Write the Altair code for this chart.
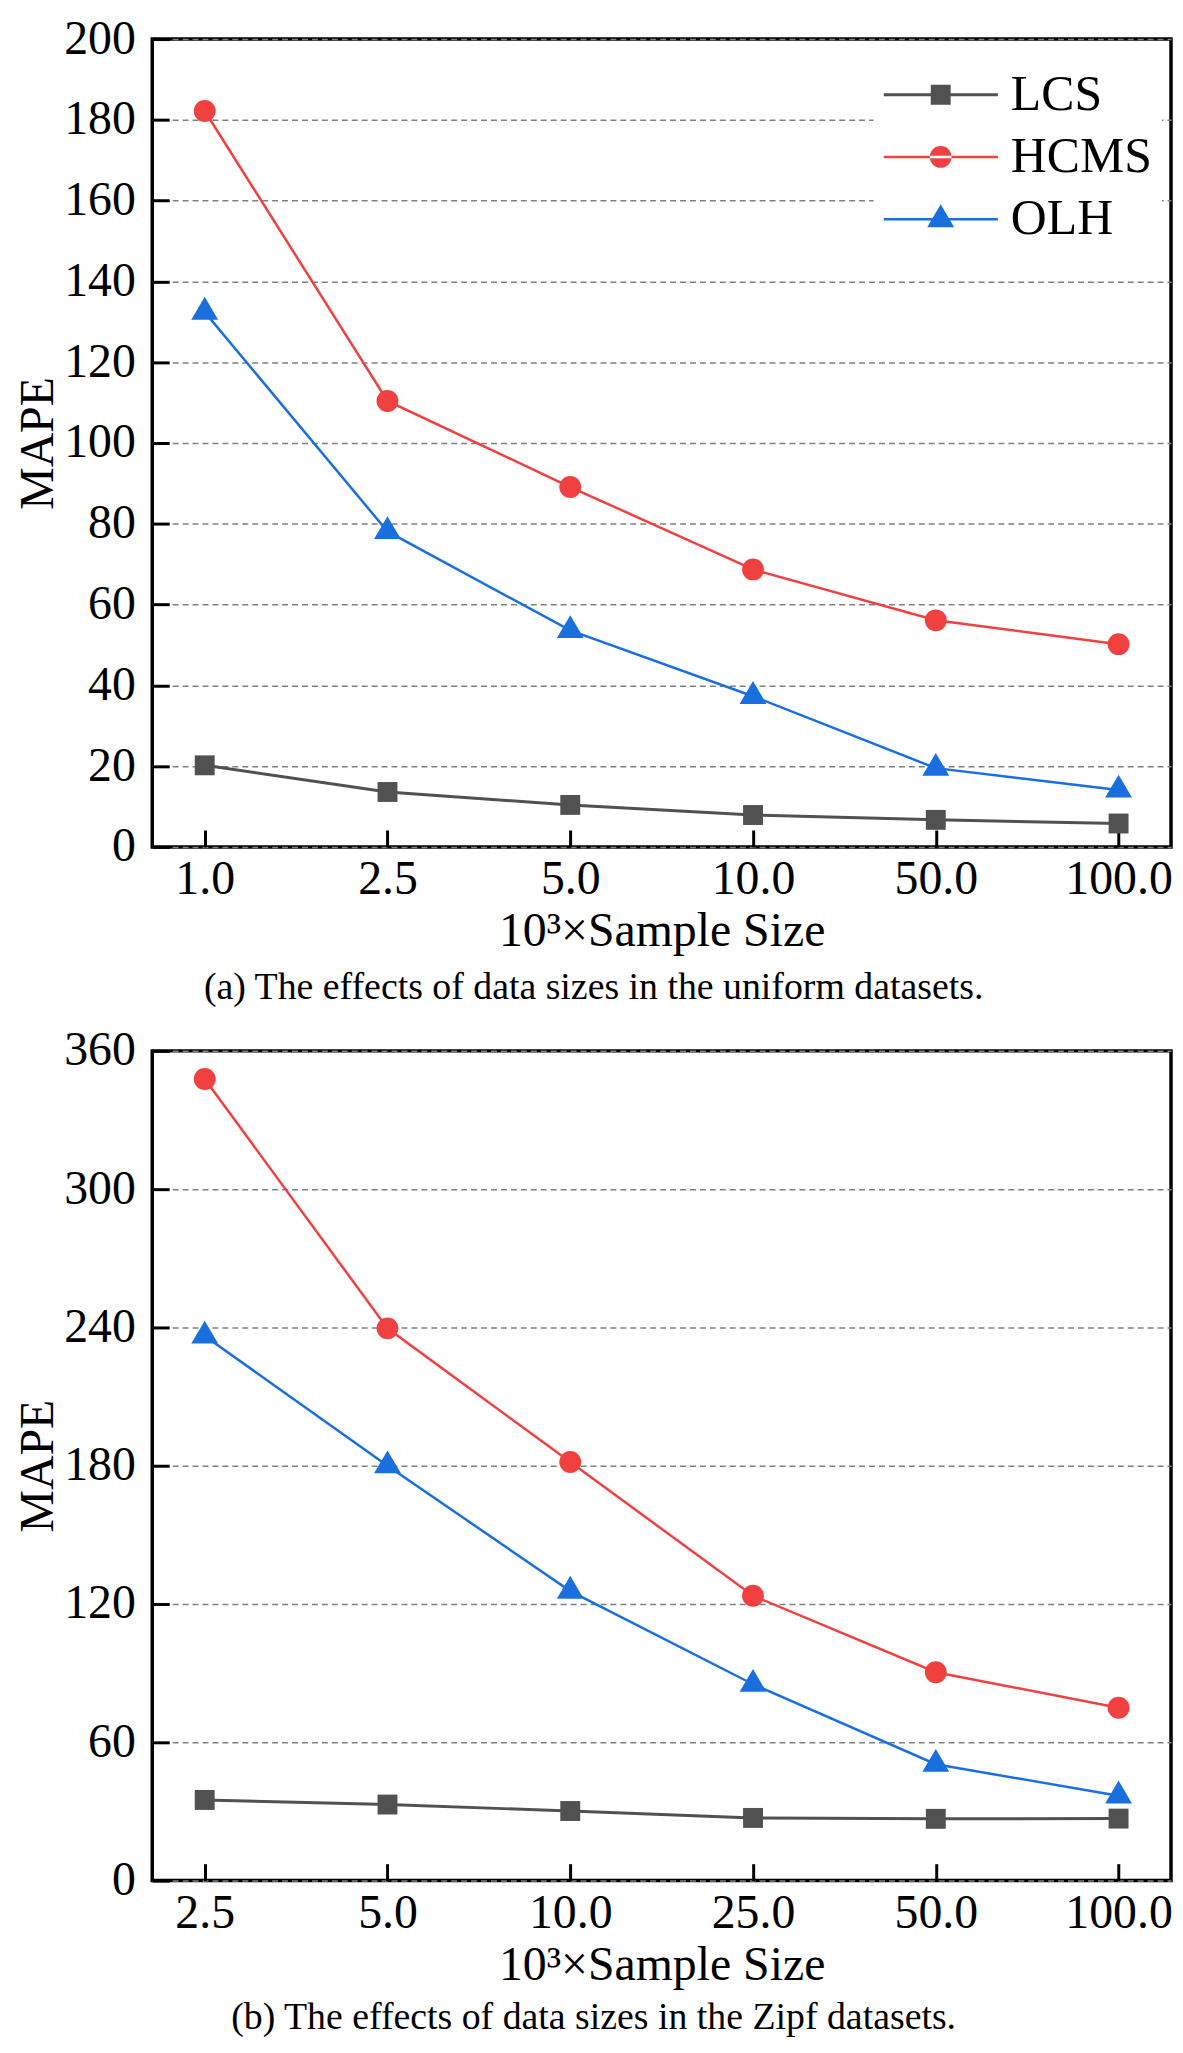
import altair as alt
import pandas as pd

FONT = "Liberation Serif"

series = ["LCS", "HCMS", "OLH"]
colors = ["#515151", "#F14040", "#1A6FDF"]
line_widths = [3, 2.5, 2.5]

# (a) uniform datasets
x_a = ["1.0", "2.5", "5.0", "10.0", "50.0", "100.0"]
lcs_a = [20.2, 13.6, 10.4, 7.9, 6.7, 5.8]
hcms_a = [182.2, 110.4, 89.1, 68.7, 56.1, 50.2]
olh_a = [132.4, 78.1, 53.6, 37.3, 19.5, 14.1]

# (b) Zipf datasets
x_b = ["2.5", "5.0", "10.0", "25.0", "50.0", "100.0"]
lcs_b = [35.0, 33.0, 30.2, 27.2, 26.8, 26.9]
hcms_b = [347.8, 239.6, 181.6, 123.6, 90.4, 75.0]
olh_b = [236.3, 180.0, 125.6, 85.2, 50.5, 36.8]

caption_a = "(a) The effects of data sizes in the uniform datasets."
caption_b = "(b) The effects of data sizes in the Zipf datasets."
x_title = "10\u00b3\u00d7Sample Size"
y_title = "MAPE"

marker_shapes = ["square", "circle", "M0,-1.137L1,0.568L-1,0.568Z"]
marker_sizes = [400, 484, 729]
legend_shapes = [
    "M-1,-0.026H1V0.026H-1Z M-0.174,-0.174H0.174V0.174H-0.174Z",
    "M-1,-0.022H1V0.022H-1Z M-0.19,0A0.19,0.19 0 1,0 0.19,0A0.19,0.19 0 1,0 -0.19,0Z",
    "M-1,-0.022H1V0.022H-1Z M0,-0.26L0.235,0.14L-0.235,0.14Z",
]


def long_df(xs, lcs, hcms, olh):
    rows = []
    for name, vals in zip(series, [lcs, hcms, olh]):
        for i, (x, v) in enumerate(zip(xs, vals)):
            rows.append({"size": x, "idx": i, "series": name, "mape": v})
    return pd.DataFrame(rows)


def panel(df, xs, ymax, ystep, caption, lx, ly, width, height, cap_offset):
    x_enc = alt.X(
        "size:N", sort=xs,
        scale=alt.Scale(type="point", padding=0.287),
        axis=alt.Axis(title=x_title, labelAngle=0, grid=False,
                      tickSize={"expr": "-17"}, labelPadding=26, titlePadding=4),
    )
    y_enc = alt.Y(
        "mape:Q",
        scale=alt.Scale(domain=[0, ymax], nice=False),
        axis=alt.Axis(title=y_title, values=list(range(0, ymax + 1, ystep)), grid=True,
                      tickSize={"expr": "-17"}, labelPadding=34, titlePadding=1),
    )
    layers = []
    for name, col, lw in zip(series, colors, line_widths):
        layers.append(
            alt.Chart(df).transform_filter(alt.datum.series == name)
            .mark_line(strokeWidth=lw, color=col)
            .encode(x=x_enc, y=y_enc, order=alt.Order("idx:Q"))
        )
    for name, col, shp, sz in zip(series, colors, marker_shapes, marker_sizes):
        layers.append(
            alt.Chart(df).transform_filter(alt.datum.series == name)
            .mark_point(filled=True, shape=shp, size=sz, opacity=1, strokeWidth=0, color=col)
            .encode(x=x_enc, y=y_enc)
        )
    leg = alt.Legend(
        title=None, orient="none", legendX=lx, legendY=ly,
        labelFont=FONT, labelFontSize=50, labelColor="black",
        symbolSize=13225, symbolStrokeWidth=0, symbolOpacity=1,
        clipHeight=50, labelOffset=13, rowPadding=12.5, padding=10, fillColor="white",
    )
    legend_layer = (
        alt.Chart(df).transform_filter(alt.datum.mape < 0)
        .mark_point(filled=True, opacity=1)
        .encode(
            color=alt.Color("series:N", scale=alt.Scale(domain=series, range=colors), legend=leg),
            shape=alt.Shape("series:N", scale=alt.Scale(domain=series, range=legend_shapes), legend=leg),
        )
    )
    layers.append(legend_layer)
    return alt.layer(*layers).properties(
        width=width, height=height,
        title=alt.TitleParams(text=caption, orient="bottom", anchor="middle", frame="bounds",
                              font=FONT, fontSize=38, fontWeight="normal", color="black",
                              offset=cap_offset),
    )


top = panel(long_df(x_a, lcs_a, hcms_a, olh_a), x_a, 200, 20, caption_a, 725, 21, 1024, 812, 14)
bottom = panel(long_df(x_b, lcs_b, hcms_b, olh_b), x_b, 360, 60, caption_b, 696, 35, 1024, 834, 10)

chart = alt.vconcat(top, bottom, spacing=16).configure(
    padding={"left": 5, "top": 0, "right": 0, "bottom": 0}, background="white"
).configure_view(
    stroke="black", strokeWidth=3.5
).configure_axis(
    labelFont=FONT, labelFontSize=48, labelColor="black",
    titleFont=FONT, titleFontSize=48, titleColor="black", titleFontWeight="normal",
    tickColor="black", tickWidth=3, domain=False,
    gridColor="#808080", gridDash=[6, 4], gridWidth=1.5,
)

chart.save("out.html", embed_options={"renderer": "svg", "actions": False})
